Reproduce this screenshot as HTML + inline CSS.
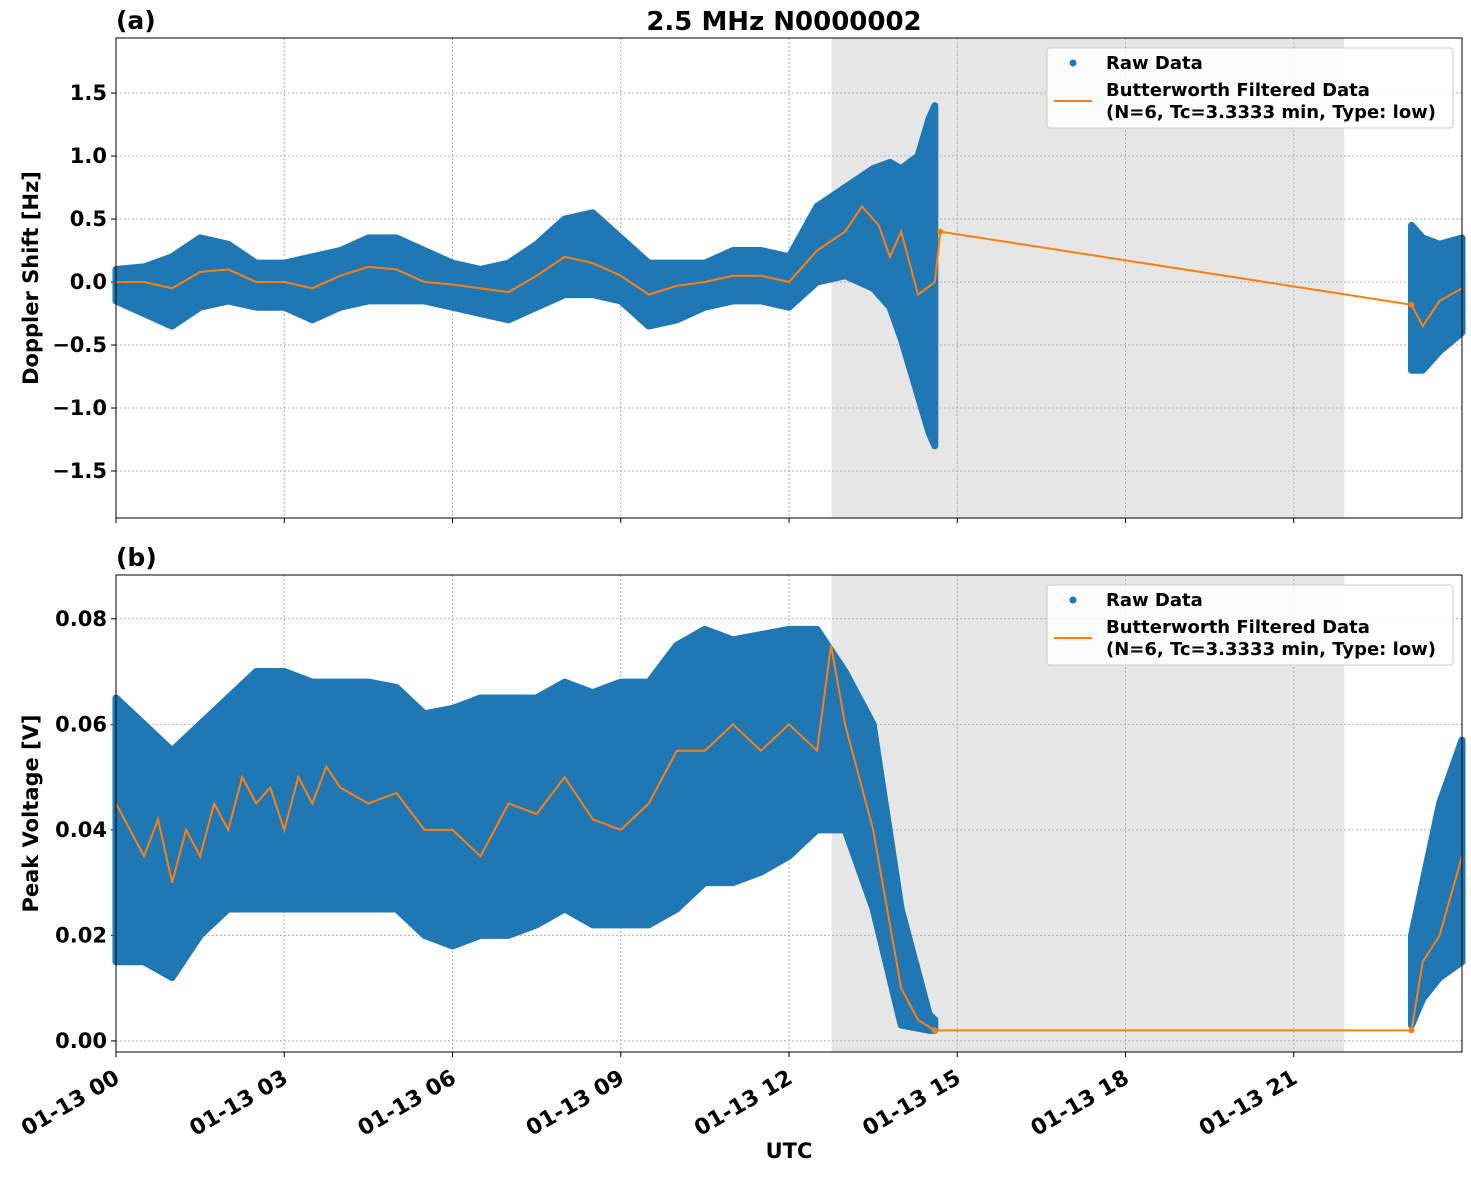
<!DOCTYPE html>
<html><head><meta charset="utf-8">
<style>
body{margin:0;background:#fff;}
svg{font-family:"DejaVu Sans","Liberation Sans",sans-serif;font-weight:bold;}
</style></head>
<body>
<svg id="chart" width="1471" height="1172" xmlns="http://www.w3.org/2000/svg"></svg>
<script>
// ---- panel (a) data ----
const aEnvT  = [0,0.5,1,1.5,2,2.5,3,3.5,4,4.5,5,5.5,6,6.5,7,7.5,8,8.5,9,9.5,10,10.5,11,11.5,12,12.5,13,13.5,13.8,14,14.3,14.5,14.6];
const aEnvHi = [0.1,0.12,0.2,0.35,0.3,0.15,0.15,0.2,0.25,0.35,0.35,0.25,0.15,0.1,0.15,0.3,0.5,0.55,0.35,0.15,0.15,0.15,0.25,0.25,0.2,0.6,0.75,0.9,0.95,0.9,1.0,1.3,1.4];
const aEnvLo = [-0.15,-0.25,-0.35,-0.2,-0.15,-0.2,-0.2,-0.3,-0.2,-0.15,-0.15,-0.15,-0.2,-0.25,-0.3,-0.2,-0.1,-0.1,-0.15,-0.35,-0.3,-0.2,-0.15,-0.15,-0.2,0,0.05,-0.05,-0.2,-0.45,-0.9,-1.2,-1.3];
const aEnv2T  = [23.1,23.3,23.6,24];
const aEnv2Hi = [0.45,0.35,0.3,0.35];
const aEnv2Lo = [-0.7,-0.7,-0.55,-0.4];
const aFiltT = [0,0.5,1,1.5,2,2.5,3,3.5,4,4.5,5,5.5,6,6.5,7,7.5,8,8.5,9,9.5,10,10.5,11,11.5,12,12.5,13,13.3,13.6,13.8,14,14.3,14.6,14.7,23.1,23.3,23.6,24];
const aFiltV = [0,0,-0.05,0.08,0.1,0,0,-0.05,0.05,0.12,0.1,0,-0.02,-0.05,-0.08,0.05,0.2,0.15,0.05,-0.1,-0.03,0,0.05,0.05,0,0.25,0.4,0.6,0.45,0.2,0.4,-0.1,0,0.4,-0.18,-0.35,-0.15,-0.05];
const aTicks = [-1.5,-1.0,-0.5,0.0,0.5,1.0,1.5];
const aTickLabels = ["\u22121.5","\u22121.0","\u22120.5","0.0","0.5","1.0","1.5"];
// ---- panel (b) data ----
const bEnvT  = [0,0.5,1,1.5,2,2.5,3,3.5,4,4.5,5,5.5,6,6.5,7,7.5,8,8.5,9,9.5,10,10.5,11,11.5,12,12.5,13,13.5,14,14.5,14.6];
const bEnvHi = [0.065,0.06,0.055,0.06,0.065,0.07,0.07,0.068,0.068,0.068,0.067,0.062,0.063,0.065,0.065,0.065,0.068,0.066,0.068,0.068,0.075,0.078,0.076,0.077,0.078,0.078,0.07,0.06,0.025,0.005,0.004];
const bEnvLo = [0.015,0.015,0.012,0.02,0.025,0.025,0.025,0.025,0.025,0.025,0.025,0.02,0.018,0.02,0.02,0.022,0.025,0.022,0.022,0.022,0.025,0.03,0.03,0.032,0.035,0.04,0.04,0.025,0.003,0.002,0.002];
const bEnv2T  = [23.1,23.3,23.6,24];
const bEnv2Hi = [0.02,0.03,0.045,0.057];
const bEnv2Lo = [0.003,0.008,0.012,0.015];
const bFiltT = [0,0.25,0.5,0.75,1,1.25,1.5,1.75,2,2.25,2.5,2.75,3,3.25,3.5,3.75,4,4.5,5,5.5,6,6.5,7,7.5,8,8.5,9,9.5,10,10.5,11,11.5,12,12.5,12.75,13,13.5,14,14.3,14.6,23.1,23.3,23.6,24];
const bFiltV = [0.045,0.04,0.035,0.042,0.03,0.04,0.035,0.045,0.04,0.05,0.045,0.048,0.04,0.05,0.045,0.052,0.048,0.045,0.047,0.04,0.04,0.035,0.045,0.043,0.05,0.042,0.04,0.045,0.055,0.055,0.06,0.055,0.06,0.055,0.075,0.06,0.04,0.01,0.004,0.002,0.002,0.015,0.02,0.035];
const bTicks = [0,0.02,0.04,0.06,0.08];
const bTickLabels = ["0.00","0.02","0.04","0.06","0.08"];
// ---- x axis ----
const xTicks = [0,3,6,9,12,15,18,21];
const xTickLabels = ["01-13 00","01-13 03","01-13 06","01-13 09","01-13 12","01-13 15","01-13 18","01-13 21"];
const shadeStart = 12.76, shadeEnd = 21.9;

const NS="http://www.w3.org/2000/svg";
const svg=document.getElementById('chart');
function mk(tag,attrs,parent){const e=document.createElementNS(NS,tag);for(const k in attrs)e.setAttribute(k,attrs[k]);(parent||svg).appendChild(e);return e;}
const L=116,R=1462;
const X=t=>L+(t/24)*(R-L);

function panel(top,bot,ymin,ymax,ticks,labels,envs,fT,fV,ylab,tag,gapIdx){
  const Y=v=>bot-(v-ymin)/(ymax-ymin)*(bot-top);
  const g=mk('g',{});
  
  
  const sh=mk('rect',{x:X(shadeStart),y:top,width:X(shadeEnd)-X(shadeStart),height:bot-top,fill:'#e6e6e6'},g);
  
  
  xTicks.forEach(t=>{const l=mk('line',{x1:X(t),x2:X(t),y1:top,y2:bot,stroke:'#b0b0b0','stroke-dasharray':'2,2','stroke-width':1},g);
    
    
    mk('line',{x1:X(t),x2:X(t),y1:bot,y2:bot+5,stroke:'#000'},g);});
  ticks.forEach((v,i)=>{const l=mk('line',{x1:L,x2:R,y1:Y(v),y2:Y(v),stroke:'#b0b0b0','stroke-dasharray':'2,2','stroke-width':1},g);
    
    
    mk('line',{x1:L-5,x2:L,y1:Y(v),y2:Y(v),stroke:'#000'},g);
    const tx=mk('text',{x:L-9,y:Y(v)+7,'text-anchor':'end','font-size':21},g);tx.textContent=labels[i];
    
    });
  envs.forEach(([T,H,Lo])=>{
    let pts=T.map((t,i)=>X(t)+','+Y(H[i]));
    for(let i=T.length-1;i>=0;i--)pts.push(X(T[i])+','+Y(Lo[i]));
    const p=mk('polygon',{points:pts.join(' '),fill:'#1f77b4',stroke:'#1f77b4','stroke-width':7,'stroke-linejoin':'round'},g);
    
    
  });
  const fl=mk('polyline',{points:fT.map((t,i)=>X(t)+','+Y(fV[i])).join(' '),fill:'none',stroke:'#ff7f0e','stroke-width':2},g);
  
  
  mk('circle',{cx:X(fT[gapIdx]),cy:Y(fV[gapIdx]),r:3,fill:'#ff7f0e'},g);
  mk('circle',{cx:X(fT[gapIdx+1]),cy:Y(fV[gapIdx+1]),r:3,fill:'#ff7f0e'},g);
  const fr=mk('rect',{x:L,y:top,width:R-L,height:bot-top,fill:'none',stroke:'#000','stroke-width':1},g);
  
  
  const yl=mk('text',{x:0,y:0,'text-anchor':'middle','font-size':21,transform:`translate(38,${(top+bot)/2}) rotate(-90)`},g);yl.textContent=ylab;
  
  
  const pl=mk('text',{x:116,y:top-9,'font-size':25},g);pl.textContent='('+tag+')';
  
  
  const lg=mk('g',{},g);
  
  
  mk('rect',{x:1047,y:top+10,width:406,height:80,fill:'#fff','fill-opacity':0.85,stroke:'#ccc',rx:3},lg);
  mk('circle',{cx:1073,cy:top+25,r:3.5,fill:'#1f77b4'},lg);
  const t1=mk('text',{x:1106,y:top+31,'font-size':18},lg);t1.textContent='Raw Data';
  
  
  mk('line',{x1:1054,x2:1092,y1:top+63,y2:top+63,stroke:'#ff7f0e','stroke-width':2},lg);
  const t2=mk('text',{x:1106,y:top+58,'font-size':18},lg);t2.textContent='Butterworth Filtered Data';
  
  
  const t3=mk('text',{x:1106,y:top+80,'font-size':18},lg);t3.textContent='(N=6, Tc=3.3333 min, Type: low)';
  
  
}
panel(38,518,-1.873,1.937,aTicks,aTickLabels,[[aEnvT,aEnvHi,aEnvLo],[aEnv2T,aEnv2Hi,aEnv2Lo]],aFiltT,aFiltV,'Doppler Shift [Hz]','a',33);
panel(575,1052,-0.0021,0.0883,bTicks,bTickLabels,[[bEnvT,bEnvHi,bEnvLo],[bEnv2T,bEnv2Hi,bEnv2Lo]],bFiltT,bFiltV,'Peak Voltage [V]','b',39);

xTicks.forEach((t,i)=>{const tx=mk('text',{x:0,y:0,'text-anchor':'end','font-size':22,transform:`translate(${X(t)+5},${1082}) rotate(-30)`});
  tx.textContent=xTickLabels[i];
  
  });
const xt=mk('text',{x:789,y:1158,'text-anchor':'middle','font-size':21});xt.textContent='UTC';


const tt=mk('text',{x:784,y:30,'text-anchor':'middle','font-size':26});tt.textContent='2.5 MHz N0000002';


</script>
</body></html>
